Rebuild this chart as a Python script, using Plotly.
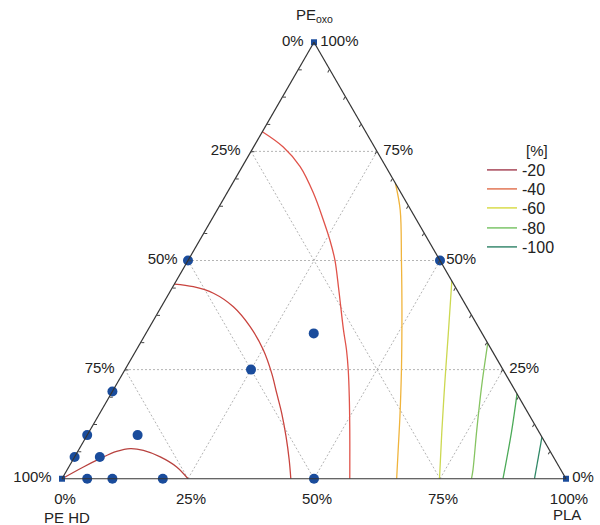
import plotly.graph_objects as go

# ---------------- data ----------------
# measured compositions (fractions): PE_oxo (top), PE HD (left), PLA (right)
pts_oxo = [1.0, 0.5, 0.5, 0.2, 0.1, 0.05, 0.0, 0.0, 0.0, 0.0, 0.1, 0.05, 0.25, 0.333, 0.0, 0.0]
pts_hd  = [0.0, 0.5, 0.0, 0.8, 0.9, 0.95, 1.0, 0.95, 0.9, 0.8, 0.8, 0.9, 0.5, 0.334, 0.5, 0.0]
pts_pla = [0.0, 0.0, 0.5, 0.0, 0.0, 0.0, 0.0, 0.05, 0.1, 0.2, 0.1, 0.05, 0.25, 0.333, 0.5, 1.0]

# contour lines: (oxo, PLA) pairs; PE HD = 1 - oxo - PLA
line_A_oxo = [0.0, 0.027, 0.046, 0.0625, 0.069, 0.065, 0.050, 0.027, 0.0]
line_A_pla = [0.0, 0.029, 0.0525, 0.077, 0.101, 0.129, 0.170, 0.214, 0.25]
line_B_oxo = [0.446, 0.440, 0.425, 0.394, 0.3485, 0.295, 0.242, 0.196, 0.150, 0.097, 0.0435, 0.0]
line_B_pla = [0.0, 0.0405, 0.088, 0.143, 0.199, 0.252, 0.295, 0.328, 0.361, 0.396, 0.429, 0.454]
line_C_oxo = [0.795, 0.760, 0.715, 0.654, 0.593, 0.547, 0.501, 0.4325, 0.341, 0.295, 0.248, 0.188, 0.112, 0.0]
line_C_pla = [0.0, 0.059, 0.115, 0.172, 0.222, 0.258, 0.291, 0.333, 0.388, 0.417, 0.444, 0.476, 0.515, 0.571]
line_D_oxo = [0.677, 0.616, 0.501, 0.387, 0.249, 0.143, 0.066, 0.0]
line_D_pla = [0.323, 0.363, 0.423, 0.481, 0.549, 0.599, 0.634, 0.664]
line_E_oxo = [0.453, 0.333, 0.219, 0.105, 0.0]
line_E_pla = [0.547, 0.600, 0.650, 0.701, 0.749]
line_F_oxo = [0.3105, 0.211, 0.112, 0.021, 0.0]
line_F_pla = [0.6895, 0.727, 0.767, 0.805, 0.8125]
line_G_oxo = [0.1945, 0.108, 0.0]
line_G_pla = [0.8055, 0.838, 0.875]
line_H_oxo = [0.0955, 0.0]
line_H_pla = [0.9045, 0.9375]

line_colors = ["#b8423f", "#c9443f", "#e0534a", "#f0b43c", "#ccd850", "#86c462", "#4caa58", "#2f8866"]

legend_levels = ["-20", "-40", "-60", "-80", "-100"]
legend_colors = ["#a8485a", "#e27656", "#d8dc4c", "#7cc46a", "#3a8a70"]

tick_labels = ["0%", "25%", "50%", "75%", "100%"]
grid_levels = [0.25, 0.5, 0.75]

# ---------------- figure ----------------
fig = go.Figure()

grid_line = dict(color="#b4b4b4", width=1, dash="2px,2px")
for g in grid_levels:
    fig.add_trace(go.Scatterternary(a=[g, g], b=[1 - g, 0], c=[0, 1 - g], mode="lines",
                                    line=grid_line, showlegend=False, hoverinfo="skip"))
    fig.add_trace(go.Scatterternary(a=[1 - g, 0], b=[g, g], c=[0, 1 - g], mode="lines",
                                    line=grid_line, showlegend=False, hoverinfo="skip"))
    fig.add_trace(go.Scatterternary(a=[1 - g, 0], b=[0, 1 - g], c=[g, g], mode="lines",
                                    line=grid_line, showlegend=False, hoverinfo="skip"))

contours = [(line_A_oxo, line_A_pla), (line_B_oxo, line_B_pla), (line_C_oxo, line_C_pla),
            (line_D_oxo, line_D_pla), (line_E_oxo, line_E_pla), (line_F_oxo, line_F_pla),
            (line_G_oxo, line_G_pla), (line_H_oxo, line_H_pla)]
for (oxo, pla), col in zip(contours, line_colors):
    fig.add_trace(go.Scatterternary(a=oxo, c=pla, b=[1 - o - p for o, p in zip(oxo, pla)],
                                    mode="lines", line=dict(color=col, width=1.3, shape="spline"),
                                    showlegend=False, hoverinfo="skip"))

# legend entries, each in its own legend box so the spacing can follow the reference
legend_y_px = [170, 189, 208, 228, 247]
legend_ids = ["legend", "legend2", "legend3", "legend4", "legend5"]
for name, col, lid in zip(legend_levels, legend_colors, legend_ids):
    fig.add_trace(go.Scatterternary(a=[None], b=[None], c=[None], mode="lines", name=name,
                                    line=dict(color=col, width=1.5), showlegend=True, legend=lid))

is_vertex = [max(o, h, p) >= 0.999 for o, h, p in zip(pts_oxo, pts_hd, pts_pla)]
fig.add_trace(go.Scatterternary(a=pts_oxo, b=pts_hd, c=pts_pla, mode="markers", cliponaxis=False,
                                opacity=1,
                                marker=dict(color="#1a4c9c", opacity=1, line=dict(width=0),
                                            size=[6 if v else 10 for v in is_vertex],
                                            symbol=["square" if v else "circle" for v in is_vertex]),
                                showlegend=False))

minor = [i / 16 for i in range(17)]
def labels(pre="", post=""):
    out = []
    for i in range(17):
        if i % 4 == 0:
            out.append(pre + tick_labels[4 - i // 4] + post)
        else:
            out.append("")
    return out

font_tick = dict(size=15, color="#222222", family="Liberation Sans, Arial")
axis_common = dict(min=0, showgrid=False, linecolor="#333333", linewidth=1.2,
                   tickmode="array", tickvals=minor, tickfont=font_tick, title=dict(text=""))
NB = "\u00a0"

legends = {}
for lid, ypx in zip(legend_ids, legend_y_px):
    legends[lid] = dict(x=482 / 600, y=1 - ypx / 525, xanchor="left", yanchor="middle",
                        bgcolor="rgba(0,0,0,0)", font=dict(size=16, color="#222222"))

fig.update_layout(
    width=600, height=525,
    margin=dict(l=0, r=0, t=0, b=0),
    paper_bgcolor="white",
    hovermode=False,
    font=dict(family="Liberation Sans, Arial", color="#222222"),
    ternary=dict(
        domain=dict(x=[62 / 600, 566 / 600], y=[1 - 479 / 525, 1 - 42 / 525]),
        bgcolor="rgba(0,0,0,0)",
        sum=1,
        aaxis=dict(**axis_common, ticks="inside", ticklen=3, tickcolor="#444444",
                   ticktext=labels(post=NB + NB)),
        baxis=dict(**axis_common, ticks="outside", ticklen=6, tickcolor="rgba(0,0,0,0)",
                   ticktext=labels()),
        caxis=dict(**axis_common, ticks="inside", ticklen=3, tickcolor="#444444",
                   ticktext=labels(pre=NB)),
    ),
    **legends,
    annotations=[
        dict(text="PE<sub>oxo</sub>", x=314 / 600, y=1 - 16 / 525, xref="paper", yref="paper",
             xanchor="center", yanchor="middle", showarrow=False, font=dict(size=15)),
        dict(text="PE HD", x=67 / 600, y=1 - 517 / 525, xref="paper", yref="paper",
             xanchor="center", yanchor="middle", showarrow=False, font=dict(size=15)),
        dict(text="PLA", x=567 / 600, y=1 - 514 / 525, xref="paper", yref="paper",
             xanchor="center", yanchor="middle", showarrow=False, font=dict(size=15)),
        dict(text="[%]", x=524 / 600, y=1 - 150 / 525, xref="paper", yref="paper",
             xanchor="left", yanchor="middle", showarrow=False, font=dict(size=15)),
    ],
)

fig.write_html("out.html", config={"displayModeBar": False},
               post_script="document.body.style.margin='0';")
